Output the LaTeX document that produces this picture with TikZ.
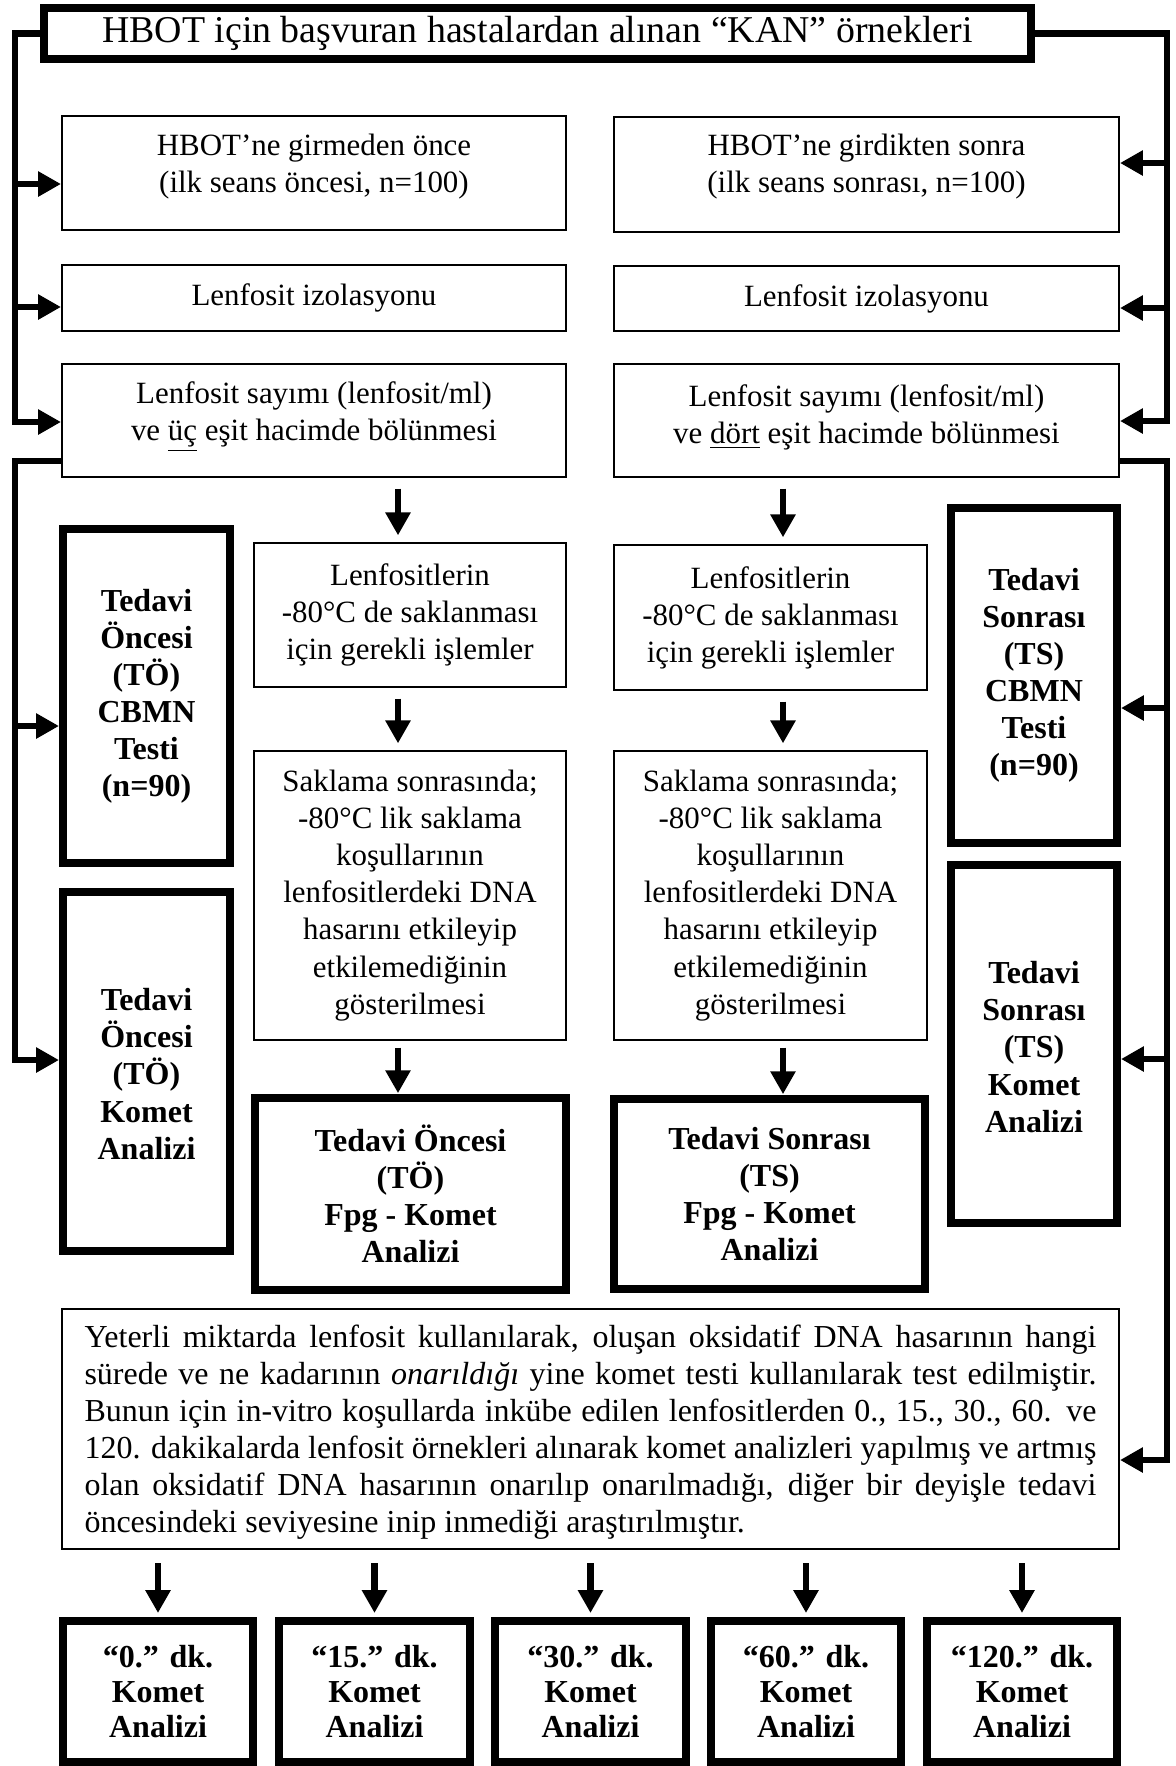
\documentclass[tikz,border=0pt]{standalone}
\usepackage{fontspec}
\setmainfont{Liberation Serif}
\usetikzlibrary{arrows.meta,fit}

\newcommand{\justline}[1]{\hbox to 379.5pt{#1}}

\begin{document}
\begin{tikzpicture}[x=0.375pt,y=-0.375pt,
  thinbox/.style={draw, line width=0.75pt, inner sep=0pt},
  thickbox/.style={draw, line width=3pt, inner sep=0pt},
  txt/.style={align=center, inner sep=0pt, font=\fontsize{11.6}{13.9}\selectfont},
  btxt/.style={align=center, inner sep=0pt, font=\fontsize{12}{13.9}\selectfont\bfseries},
  ktxt/.style={align=center, inner sep=0pt, font=\fontsize{12}{13.3}\selectfont\bfseries},
  ptxt/.style={inner sep=0pt, font=\fontsize{12}{13.9}\selectfont},
  link/.style={line width=2.4pt, line join=miter},
  arr/.style={link, -{Triangle[length=8.6pt,width=9pt]}},
]
\useasboundingbox (0,0) rectangle (1176,1766);

% title box
\node[thickbox, fit={(44,8)(1031,59)}] (top) {};
\node[txt, font=\fontsize{14.2}{16}\selectfont] (toptxt) at (top.center) {HBOT için başvuran hastalardan alınan “KAN” örnekleri};

% left branch: before treatment
\node[thinbox, fit={(62,116)(566,230)}] (L1) {};
\node[txt] (L1t) at (314,167) {HBOT’ne girmeden önce\\(ilk seans öncesi, n=100)};
\node[thinbox, fit={(62,265)(566,331)}] (L2) {};
\node[txt] (L2t) at (L2.center) {Lenfosit izolasyonu};
\node[thinbox, fit={(62,364)(566,477)}] (L3) {};
\node[txt] (L3t) at (314,417) {Lenfosit sayımı (lenfosit/ml)\\ve \underline{üç} eşit hacimde bölünmesi};

% right branch: after treatment
\node[thinbox, fit={(614,117)(1119,232)}] (R1) {};
\node[txt] (R1t) at (866.5,167) {HBOT’ne girdikten sonra\\(ilk seans sonrası, n=100)};
\node[thinbox, fit={(614,266)(1119,331)}] (R2) {};
\node[txt] (R2t) at (R2.center) {Lenfosit izolasyonu};
\node[thinbox, fit={(614,364)(1119,477)}] (R3) {};
\node[txt] (R3t) at (866.5,417) {Lenfosit sayımı (lenfosit/ml)\\ve \underline{dört} eşit hacimde bölünmesi};

% side test boxes
\node[thickbox, fit={(63,529)(230,863)}] (CTO) {};
\node[btxt] (CTOt) at (CTO.center) {Tedavi\\Öncesi\\(TÖ)\\CBMN\\Testi\\(n=90)};
\node[thickbox, fit={(63,892)(230,1251)}] (KTO) {};
\node[btxt] (KTOt) at (146.5,1074) {Tedavi\\Öncesi\\(TÖ)\\Komet\\Analizi};
\node[thickbox, fit={(951,508)(1117,843)}] (CTS) {};
\node[btxt] (CTSt) at (CTS.center) {Tedavi\\Sonrası\\(TS)\\CBMN\\Testi\\(n=90)};
\node[thickbox, fit={(951,865)(1117,1223)}] (KTS) {};
\node[btxt] (KTSt) at (1034,1047) {Tedavi\\Sonrası\\(TS)\\Komet\\Analizi};

% storage columns
\node[thinbox, fit={(254,543)(566,687)}] (LfL) {};
\node[txt] (LfLt) at (LfL.center) {Lenfositlerin\\-80°C de saklanması\\için gerekli işlemler};
\node[thinbox, fit={(254,751)(566,1040)}] (SkL) {};
\node[txt] (SkLt) at (SkL.center) {Saklama sonrasında;\\-80°C lik saklama\\koşullarının\\lenfositlerdeki DNA\\hasarını etkileyip\\etkilemediğinin\\gösterilmesi};
\node[thickbox, fit={(255,1098)(566,1290)}] (FpL) {};
\node[btxt] (FpLt) at (FpL.center) {Tedavi Öncesi\\(TÖ)\\Fpg - Komet\\Analizi};

\node[thinbox, fit={(614,545)(927,690)}] (LfR) {};
\node[txt] (LfRt) at (LfR.center) {Lenfositlerin\\-80°C de saklanması\\için gerekli işlemler};
\node[thinbox, fit={(614,751)(927,1040)}] (SkR) {};
\node[txt] (SkRt) at (SkR.center) {Saklama sonrasında;\\-80°C lik saklama\\koşullarının\\lenfositlerdeki DNA\\hasarını etkileyip\\etkilemediğinin\\gösterilmesi};
\node[thickbox, fit={(614,1099)(925,1289)}] (FpR) {};
\node[btxt] (FpRt) at (FpR.center) {Tedavi Sonrası\\(TS)\\Fpg - Komet\\Analizi};

% repair paragraph
\node[thinbox, fit={(62,1309)(1119,1549)}] (P) {};
\node[ptxt] (Pt) at (590.5,1432) {\vbox{%
\justline{Yeterli miktarda lenfosit kullanılarak, oluşan oksidatif DNA hasarının hangi}
\justline{sürede ve ne kadarının \textit{onarıldığı} yine komet testi kullanılarak test edilmiştir.}
\justline{Bunun için in-vitro koşullarda inkübe edilen lenfositlerden 0., 15., 30., 60. ve}
\justline{120. dakikalarda lenfosit örnekleri alınarak komet analizleri yapılmış ve artmış}
\justline{olan oksidatif DNA hasarının onarılıp onarılmadığı, diğer bir deyişle tedavi}
\hbox{öncesindeki seviyesine inip inmediği araştırılmıştır.}}};

% time-point boxes
\node[thickbox, fit={(63,1621)(253,1762)}] (K0) {};
\node[ktxt] (K0t) at (K0.center) {“0.” dk.\\Komet\\Analizi};
\node[thickbox, fit={(279,1621)(470,1762)}] (K1) {};
\node[ktxt] (K1t) at (K1.center) {“15.” dk.\\Komet\\Analizi};
\node[thickbox, fit={(495,1621)(686,1762)}] (K2) {};
\node[ktxt] (K2t) at (K2.center) {“30.” dk.\\Komet\\Analizi};
\node[thickbox, fit={(711,1621)(901,1762)}] (K3) {};
\node[ktxt] (K3t) at (K3.center) {“60.” dk.\\Komet\\Analizi};
\node[thickbox, fit={(927,1621)(1117,1762)}] (K4) {};
\node[ktxt] (K4t) at (K4.center) {“120.” dk.\\Komet\\Analizi};

% left trunk
\coordinate (lt1) at (15,184);
\coordinate (lt2) at (15,307);
\coordinate (lt3) at (15,422);
\draw[arr] (top.west) -| (lt3) -- (lt3 -| L3.west);
\draw[arr] (lt1) -- (lt1 -| L1.west);
\draw[arr] (lt2) -- (lt2 -| L2.west);

% right trunk
\coordinate (rt1) at (1167,163);
\coordinate (rt2) at (1167,308);
\coordinate (rt3) at (1167,421);
\draw[arr] (top.east) -| (rt3) -- (rt3 -| R3.east);
\draw[arr] (rt1) -- (rt1 -| R1.east);
\draw[arr] (rt2) -- (rt2 -| R2.east);

% left split to tests
\coordinate (ls0) at (15,461);
\coordinate (ls1) at (15,726);
\coordinate (ls2) at (15,1060);
\draw[arr] (ls0 -| L3.west) -- (ls0) -- (ls2) -- (ls2 -| KTO.west);
\draw[arr] (ls1) -- (ls1 -| CTO.west);

% right split to tests
\coordinate (rs0) at (1167,461);
\coordinate (rs1) at (1167,708);
\coordinate (rs2) at (1167,1059);
\coordinate (rs3) at (1167,1460);
\draw[arr] (rs0 -| R3.east) -- (rs0) -- (rs3) -- (rs3 -| P.east);
\draw[arr] (rs1) -- (rs1 -| CTS.east);
\draw[arr] (rs2) -- (rs2 -| KTS.east);

% storage column arrows
\coordinate (cA) at (398,0);
\coordinate (cB) at (783,0);
\draw[arr, shorten <=4pt, shorten >=2.5pt] (cA |- L3.south) -- (cA |- LfL.north);
\draw[arr, shorten <=4pt, shorten >=2.5pt] (cA |- LfL.south) -- (cA |- SkL.north);
\draw[arr, shorten <=2.5pt, shorten >=0.3pt] (cA |- SkL.south) -- (cA |- FpL.north);
\draw[arr, shorten <=4pt, shorten >=2.5pt] (cB |- R3.south) -- (cB |- LfR.north);
\draw[arr, shorten <=4pt, shorten >=2.5pt] (cB |- LfR.south) -- (cB |- SkR.north);
\draw[arr, shorten <=2.5pt, shorten >=0.3pt] (cB |- SkR.south) -- (cB |- FpR.north);

% paragraph to time points
\draw[arr, shorten <=5pt, shorten >=1.5pt] (K0.north |- P.south) -- (K0.north);
\draw[arr, shorten <=5pt, shorten >=1.5pt] (K1.north |- P.south) -- (K1.north);
\draw[arr, shorten <=5pt, shorten >=1.5pt] (K2.north |- P.south) -- (K2.north);
\draw[arr, shorten <=5pt, shorten >=1.5pt] (K3.north |- P.south) -- (K3.north);
\draw[arr, shorten <=5pt, shorten >=1.5pt] (K4.north |- P.south) -- (K4.north);
\end{tikzpicture}
\end{document}
